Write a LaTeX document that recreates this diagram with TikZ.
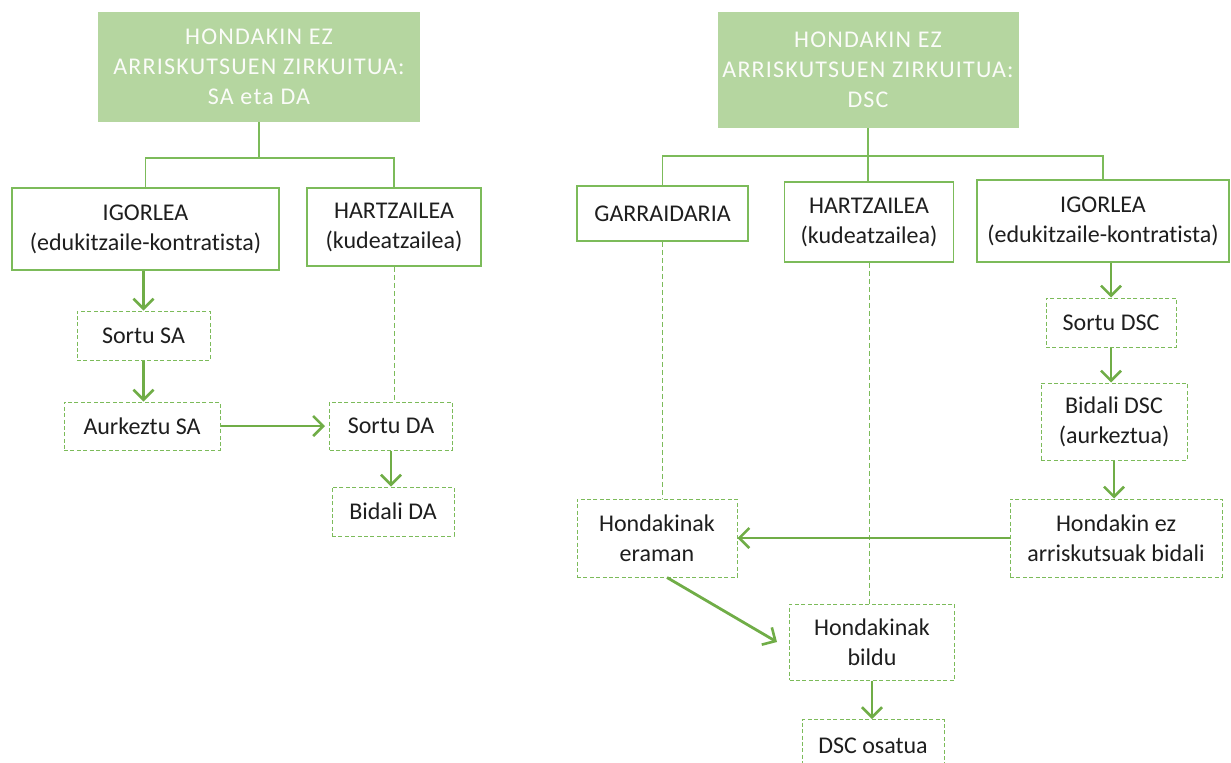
\documentclass[tikz,border=0pt]{standalone}
\usepackage{fontspec}
\setmainfont{Carlito}[Ligatures=NoCommon]
\usepackage{xcolor}
\usetikzlibrary{calc,arrows.meta,positioning}
\definecolor{leafc}{HTML}{70AD47}
\definecolor{lineg}{HTML}{7CBB5A}
\definecolor{ttlbg}{HTML}{B5D6A0}
\definecolor{txtc}{HTML}{1E1E1E}
\tikzset{
  ar/.style={-{Straight Barb[length=5pt,width=10pt,line width=1.3pt]},line width=1.4pt,leafc},
  link/.style={line width=0.8pt,lineg},
  dlink/.style={line width=0.5pt,lineg,dash pattern=on 2.5pt off 1.5pt},
  ttl/.style={fill=ttlbg,draw=none,text=white!94!ttlbg,align=center,inner sep=0pt,
    font=\fontsize{12pt}{15pt}\selectfont\addfontfeatures{LetterSpace=5}},
  rolebox/.style={draw=lineg,line width=0.9pt,fill=white,align=center,text=txtc,inner sep=0pt},
  actbox/.style={draw=lineg,line width=0.5pt,dash pattern=on 2pt off 1.2pt,fill=white,align=center,text=txtc,inner sep=0pt}
}
\begin{document}
\begin{tikzpicture}[x=0.5pt,y=-0.5pt,font=\fontsize{12pt}{15pt}\selectfont]
\useasboundingbox (0,0) rectangle (1231,762);
% SA eta DA
\node[ttl,minimum width=161pt,minimum height=55pt] (t1) at (259,67) {HONDAKIN EZ\\ARRISKUTSUEN ZIRKUITUA:\\SA eta DA};
\node[rolebox,minimum width=133.5pt,minimum height=41pt] (ig1) at (145.5,229) {IGORLEA\\(edukitzaile-kontratista)};
\node[rolebox,minimum width=87pt,minimum height=39pt] (ha1) at (394,227) {HARTZAILEA\\(kudeatzailea)};
\node[actbox,minimum width=66.5pt,minimum height=24.5pt] (ssa) at (143.5,335.5) {Sortu SA};
\node[actbox,minimum width=78pt,minimum height=24pt] (asa) at (142,426) {Aurkeztu SA};
\node[actbox,minimum width=61.5pt,minimum height=24pt] (sda) at (391,426) {Sortu DA};
\node[actbox,minimum width=61pt,minimum height=24.5pt] (bda) at (393,511.5) {Bidali DA};
\coordinate (j1) at (259,158);
\draw[link] (t1.south) -- (j1);
\draw[link] (ig1.north) |- (j1) -| (ha1.north);
\draw[ar] (ssa.north |- ig1.south) -- (ssa.north);
\draw[ar] (ssa.south) -- (ssa.south |- asa.north);
\draw[ar,shorten >=2pt] (asa.east) -- (sda.west);
\draw[dlink] (ha1.south) -- (ha1.south |- sda.north);
\draw[ar] (sda.south) -- (sda.south |- bda.north);
% DSC
\node[ttl,minimum width=150.5pt,minimum height=58pt] (t2) at (868,70) {HONDAKIN EZ\\ARRISKUTSUEN ZIRKUITUA:\\DSC};
\node[rolebox,minimum width=85.5pt,minimum height=27.5pt] (ga) at (662.5,213.5) {GARRAIDARIA};
\node[rolebox,minimum width=84.5pt,minimum height=40pt] (ha2) at (869,222) {HARTZAILEA\\(kudeatzailea)};
\node[rolebox,minimum width=126pt,minimum height=41pt] (ig2) at (1103,221) {IGORLEA\\(edukitzaile-kontratista)};
\node[actbox,minimum width=65pt,minimum height=24.5pt] (sdsc) at (1111,322.5) {Sortu DSC};
\node[actbox,minimum width=73pt,minimum height=38.5pt] (bdsc) at (1114,421.5) {Bidali DSC\\(aurkeztua)};
\node[actbox,minimum width=106pt,minimum height=39pt] (hez) at (1116,538) {Hondakin ez\\arriskutsuak bidali};
\node[actbox,minimum width=80pt,minimum height=39pt] (her) at (657,538) {Hondakinak\\eraman};
\node[actbox,minimum width=82.5pt,minimum height=38pt] (hbi) at (872,642) {Hondakinak\\bildu};
\node[actbox,minimum width=71pt,minimum height=26pt,anchor=north] (dos) at (873,719) {DSC osatua};
\coordinate (j2) at (868,156);
\draw[link] (t2.south) -- (j2) -- (j2 |- ha2.north);
\draw[link] (ga.north) |- (j2) -| (ig2.north);
\draw[dlink] (ga.south) -- (ga.south |- her.north);
\draw[dlink] (ha2.south) -- (ha2.south |- hbi.north);
\draw[ar] (sdsc.north |- ig2.south) -- (sdsc.north);
\draw[ar] (sdsc.south) -- (sdsc.south |- bdsc.north);
\draw[ar] (bdsc.south) -- (bdsc.south |- hez.north);
\draw[ar] (hez.west) -- (her.east);
\draw[ar] ([xshift=5pt]her.south) -- ([xshift=-6pt]hbi.west);
\draw[ar] (hbi.south) -- (hbi.south |- dos.north);
\end{tikzpicture}
\end{document}
